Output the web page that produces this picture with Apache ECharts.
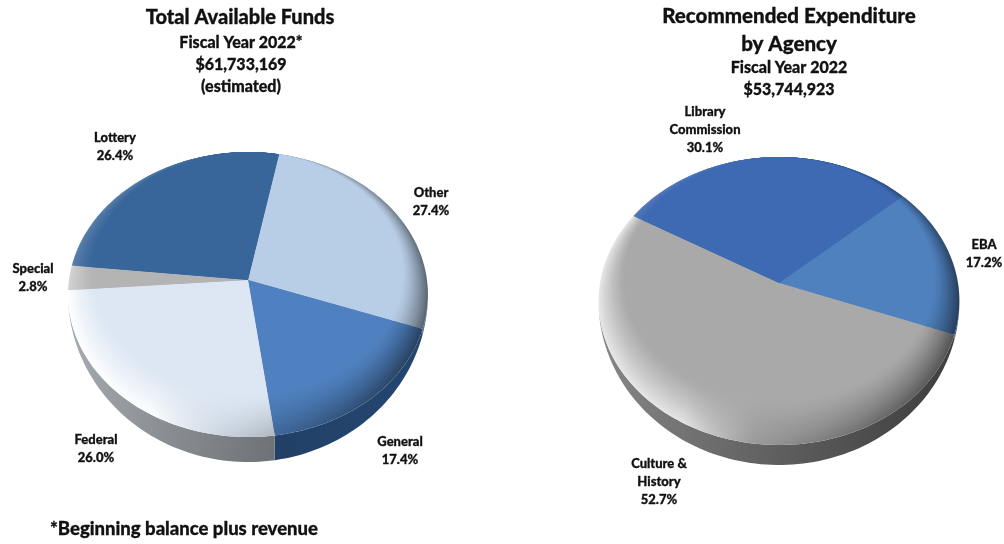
<!DOCTYPE html>
<html>
<head>
<meta charset="utf-8">
<style>html,body{margin:0;padding:0;background:#fff}#chart{width:1004px;height:544px}</style>
<script src="https://cdn.jsdelivr.net/npm/echarts@6/dist/echarts.min.js"></script>
</head>
<body>
<div id="chart"></div>
<script>
// Share of each slice, in percent, clockwise from the first boundary.
const fundCategories = ['Other', 'General', 'Federal', 'Special', 'Lottery'];
const fundShares = [27.4, 17.4, 26.0, 2.8, 26.4];
const agencyCategories = ['EBA', 'Culture &\nHistory', 'Library\nCommission'];
const agencyShares = [17.2, 52.7, 30.1];

// Slice colours: face, wall's left and right ends, and how far the lit bevel goes towards white.
const fundColors = ['#b8cde6', '#4f81c0', '#dde7f3', '#b4b4b4', '#38659a'];
const fundWalls = [['#6d86a3', '#4f6d90'], ['#1a3556', '#24466f'], ['#a9aeb3', '#4f5256'], ['#777', '#666'], ['#234', '#234']];
const fundLight = [0.3, 0.3, 0.95, 0.4, 0.16];
const agencyColors = ['#4f81bf', '#a9a9a9', '#3e69b3'];
const agencyWalls = [['#2c5583', '#2c5583'], ['#8a8a8a', '#3f3f3f'], ['#234', '#234']];
const agencyLight = [0.3, 0.7, 0.12];

// Label anchors (centre of the first line) and line height.
const fundLabelAt = [[431, 193], [400, 442], [96, 440], [33, 269], [115, 138]];
const agencyLabelAt = [[984, 245], [659, 464], [705, 112]];
const LABEL_LINE = 18;

// Tilted disc geometry: a projective map of the unit circle, so the hub sits above the face's centre.
const fundDisc = { cx: 248, cy: 280, rx: 179, a: 141, k: -0.102, depth: 25, start: 11 };
const agencyDisc = { cx: 779, cy: 283, rx: 179, a: 141.75, k: -0.125, depth: 20, start: 48.5 };

const BEVEL_LAYERS = 16;
const BEVEL_MIN = 0.875;
const FONT = 'Lato, "Open Sans", sans-serif';

function hexRgb(h) {
  h = h.slice(1);
  if (h.length === 3) h = h.replace(/./g, '$&$&');
  return [0, 2, 4].map(i => parseInt(h.substr(i, 2), 16));
}
function mix(hex, target, t) {
  const c = hexRgb(hex).map(v => Math.round(v + (target - v) * t));
  return `rgb(${c[0]},${c[1]},${c[2]})`;
}
function project(d, u, v) {
  const w = 1 + d.k * v;
  return [d.cx + d.rx * u / w, d.cy + d.a * v / w];
}
// Point along the ray at angle deg, on a circle of radius s whose centre is moved up by sh.
function rimPoint(d, deg, s, sh) {
  const r = deg * Math.PI / 180, dx = Math.sin(r), dy = -Math.cos(r);
  const t = -dy * sh + Math.sqrt(dy * dy * sh * sh - sh * sh + s * s);
  return project(d, t * dx, t * dy);
}
function arcPoints(d, from, to, s, sh) {
  const pts = [], n = Math.max(2, Math.ceil((to - from) / 1.5));
  for (let i = 0; i <= n; i++) pts.push(rimPoint(d, from + (to - from) * i / n, s, sh));
  return pts;
}
function horizontal(d, stops) {
  return {
    type: 'linear', global: true,
    x: d.cx - d.rx, y: d.cy - 30, x2: d.cx + d.rx, y2: d.cy + 30,
    colorStops: stops
  };
}
// Wall height seen at the rim: nothing at the sides of the disc, full height at the front.
function wallDrop(d, deg) {
  const v = -Math.cos(deg * Math.PI / 180);
  return d.depth * Math.pow(Math.max(0, (v - 0.1) / 0.9), 1.1);
}

function pieSeries(names, shares, colors, walls, light, labelAt, disc) {
  const bounds = [disc.start];
  shares.forEach(s => bounds.push(bounds[bounds.length - 1] + s * 3.6));
  return {
    type: 'custom',
    coordinateSystem: 'none',
    silent: true,
    data: shares.map((v, i) => ({ name: names[i], value: v })),
    renderItem(params, api) {
      const i = params.dataIndex, from = bounds[i], to = from + api.value(0) * 3.6;
      const children = [];
      const hub = project(disc, 0, 0);

      // Wall: strip between the rim and its lowered copy.
      const rim = arcPoints(disc, from, to, 1, 0);
      const lower = rim.map((p, n) => {
        const deg = from + (to - from) * n / (rim.length - 1);
        return [p[0], p[1] + wallDrop(disc, deg)];
      }).reverse();
      children.push({
        type: 'polygon', z2: 1,
        shape: { points: rim.concat(lower) },
        style: { fill: horizontal(disc, [{ offset: 0, color: walls[i][0] }, { offset: 1, color: walls[i][1] }]) }
      });

      // Face: nested wedges from rim to centre, fading the bevel's light and shade out to the flat colour.
      for (let l = 0; l <= BEVEL_LAYERS; l++) {
        const t = l / BEVEL_LAYERS, s = 1 - (1 - BEVEL_MIN) * t, sh = (1 - s) * 0.97;
        const f = Math.pow(1 - t, 1.25), c = colors[i];
        children.push({
          type: 'polygon', z2: 2 + l,
          shape: { points: [hub].concat(arcPoints(disc, from, to, s, sh)) },
          style: {
            fill: horizontal(disc, [
              { offset: 0, color: mix(c, 255, light[i] * f) },
              { offset: 0.3, color: mix(c, 255, light[i] * 0.94 * f) },
              { offset: 0.5, color: mix(c, 0, 0.08 * f) },
              { offset: 1, color: mix(c, 0, 0.5 * f) }
            ])
          }
        });
      }

      // Slice label: name lines, then the share.
      const lines = names[i].split('\n').concat(api.value(0).toFixed(1) + '%');
      lines.forEach((txt, n) => children.push({
        type: 'text', z2: 40,
        style: {
          x: labelAt[i][0], y: labelAt[i][1] + n * LABEL_LINE,
          text: txt, align: 'center', verticalAlign: 'middle',
          font: `900 13px ${FONT}`, fill: '#111', stroke: '#111', lineWidth: 0.3
        }
      }));
      return { type: 'group', children };
    }
  };
}

function heading(text, x, y, size) {
  return {
    text, left: x, top: y, textAlign: 'center', textVerticalAlign: 'middle', padding: 0,
    textStyle: { fontFamily: FONT, fontWeight: 900, fontSize: size, color: '#111', textBorderColor: '#111', textBorderWidth: 0.3 }
  };
}

const chart = echarts.init(document.getElementById('chart'), null, { renderer: 'canvas' });
chart.setOption({
  animation: false,
  backgroundColor: '#fff',
  title: [
    heading('Total Available Funds', 240, 18, 20),
    heading('Fiscal Year 2022*', 241, 43, 16),
    heading('$61,733,169', 241, 65, 16),
    heading('(estimated)', 241, 87, 16),
    heading('Recommended Expenditure', 789, 16, 20.5),
    heading('by Agency', 789, 44, 20.5),
    heading('Fiscal Year 2022', 789, 68, 16),
    heading('$53,744,923', 789, 90, 16),
    Object.assign(heading('*Beginning balance plus revenue', 50, 529, 18.5), { textAlign: 'left' })
  ],
  series: [
    pieSeries(fundCategories, fundShares, fundColors, fundWalls, fundLight, fundLabelAt, fundDisc),
    pieSeries(agencyCategories, agencyShares, agencyColors, agencyWalls, agencyLight, agencyLabelAt, agencyDisc)
  ]
});
</script>
</body>
</html>
